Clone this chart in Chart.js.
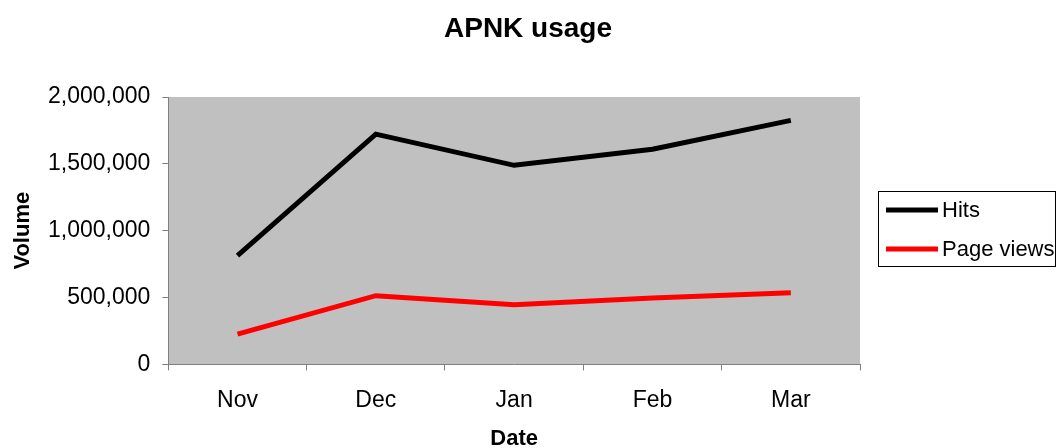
<!DOCTYPE html>
<html>
<head>
<meta charset="utf-8">
<script src="https://cdn.jsdelivr.net/npm/chart.js@4.4.1/dist/chart.umd.min.js"></script>
<style>
  html, body { margin: 0; padding: 0; background: #fff; }
  #wrap { width: 1058px; height: 448px; }
</style>
</head>
<body>
<div id="wrap"><canvas id="lineChart"></canvas></div>
<script>
const months = ['Nov', 'Dec', 'Jan', 'Feb', 'Mar'];
const hits = [814000, 1722000, 1489000, 1609000, 1825000];
const pageViews = [226000, 514000, 446000, 496000, 536000];
const seriesNames = ['Hits', 'Page views'];
const seriesColors = ['#000000', '#ff0000'];
const chartTitle = 'APNK usage';

const FONT = "'Liberation Sans', Arial, sans-serif";

// grey plot area like the old Excel chart
const plotBackground = {
  id: 'plotBackground',
  beforeDraw(chart) {
    const a = chart.chartArea;
    const ctx = chart.ctx;
    ctx.save();
    ctx.fillStyle = '#c0c0c0';
    ctx.fillRect(a.left, a.top, a.right - a.left, a.bottom - a.top);
    ctx.restore();
  }
};

// title centred on the whole canvas, boxed legend on the right
const frameText = {
  id: 'frameText',
  afterDraw(chart) {
    const ctx = chart.ctx;
    ctx.save();
    ctx.fillStyle = '#000';
    ctx.textAlign = 'center';
    ctx.textBaseline = 'middle';
    ctx.font = 'bold 28px ' + FONT;
    ctx.fillText(chartTitle, 528, 29);

    const x = 878, y = 191.5, w = 177, h = 75;
    ctx.strokeStyle = '#000';
    ctx.lineWidth = 1;
    ctx.strokeRect(x + 0.5, y, w, h);
    ctx.font = '22px ' + FONT;
    ctx.textAlign = 'left';
    chart.data.datasets.forEach((ds, i) => {
      const ly = 210 + i * 39;
      ctx.strokeStyle = ds.borderColor;
      ctx.lineWidth = 5;
      ctx.beginPath();
      ctx.moveTo(886, ly);
      ctx.lineTo(938, ly);
      ctx.stroke();
      ctx.fillText(ds.label, 942, ly + 1);
    });
    ctx.restore();
  }
};

new Chart(document.getElementById('lineChart'), {
  type: 'line',
  data: {
    labels: months,
    datasets: [
      {
        label: seriesNames[0],
        data: hits,
        borderColor: seriesColors[0],
        backgroundColor: seriesColors[0],
        borderWidth: 5,
        borderJoinStyle: 'miter',
        pointRadius: 0,
        tension: 0
      },
      {
        label: seriesNames[1],
        data: pageViews,
        borderColor: seriesColors[1],
        backgroundColor: seriesColors[1],
        borderWidth: 5,
        borderJoinStyle: 'miter',
        pointRadius: 0,
        tension: 0
      }
    ]
  },
  options: {
    responsive: true,
    maintainAspectRatio: false,
    animation: false,
    layout: {
      padding: { left: 0, right: 198, top: 97, bottom: 0 }
    },
    plugins: {
      legend: { display: false },
      tooltip: { enabled: false },
      title: { display: false }
    },
    scales: {
      x: {
        offset: true,
        grid: {
          offset: true,
          drawOnChartArea: false,
          drawTicks: true,
          tickLength: 6,
          color: '#808080'
        },
        border: { display: true, color: '#808080', width: 1 },
        ticks: {
          color: '#000',
          padding: 16,
          maxRotation: 0,
          font: { family: FONT, size: 23 }
        },
        title: {
          display: true,
          text: 'Date',
          color: '#000',
          font: { family: FONT, size: 22, weight: 'bold', lineHeight: 1 },
          padding: { top: -2, bottom: -2 }
        }
      },
      y: {
        min: 0,
        max: 2000000,
        grid: {
          drawOnChartArea: false,
          drawTicks: true,
          tickLength: 6,
          color: '#808080'
        },
        border: { display: true, color: '#808080', width: 1 },
        ticks: {
          stepSize: 500000,
          color: '#000',
          padding: 12,
          font: { family: FONT, size: 23 },
          callback: v => v.toLocaleString('en-US')
        },
        title: {
          display: true,
          text: 'Volume',
          color: '#000',
          font: { family: FONT, size: 22, weight: 'bold', lineHeight: 1 },
          padding: { top: 12, bottom: 2 }
        }
      }
    }
  },
  plugins: [plotBackground, frameText]
});
</script>
</body>
</html>
